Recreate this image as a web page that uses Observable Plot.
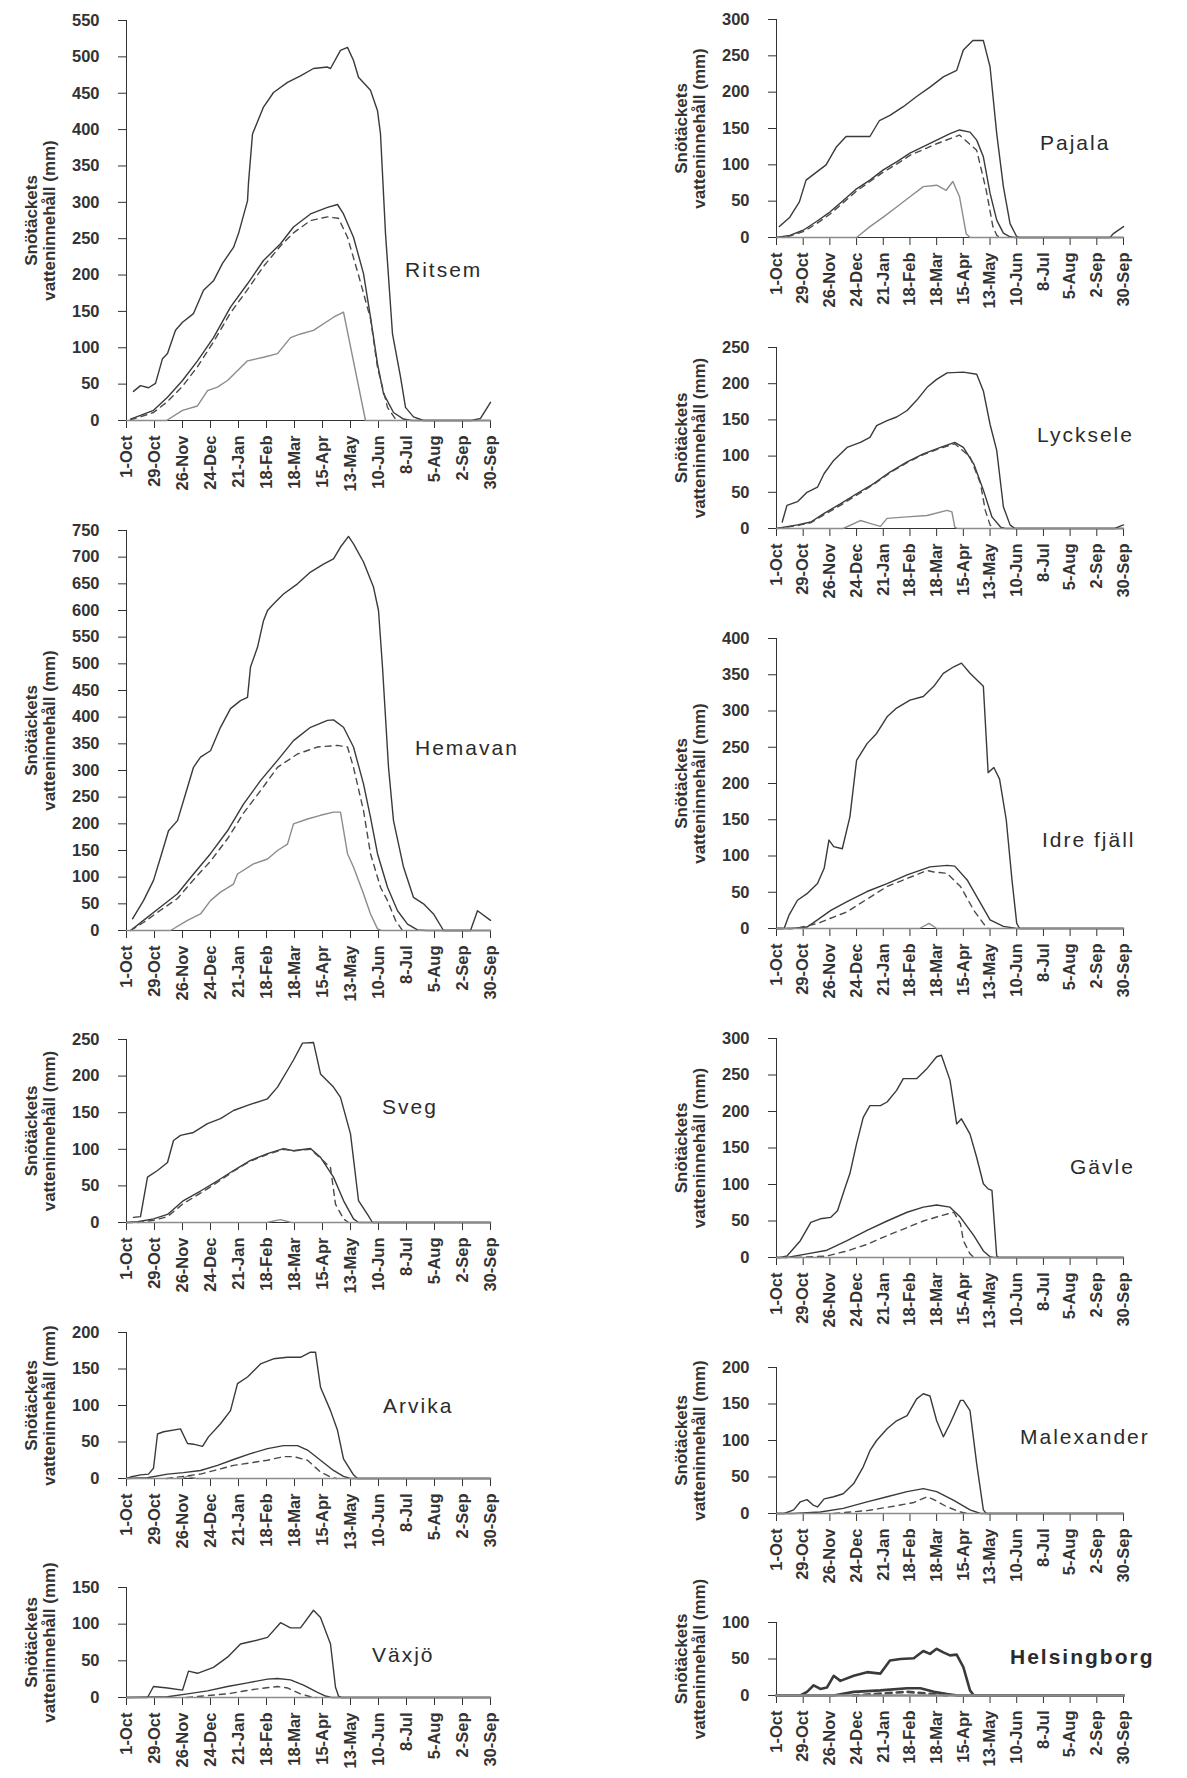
<!DOCTYPE html>
<html>
<head>
<meta charset="utf-8">
<script src="https://cdn.jsdelivr.net/npm/d3@7"></script>
<script src="https://cdn.jsdelivr.net/npm/@observablehq/plot@0.6"></script>
<style>
  html, body { margin: 0; padding: 0; background: #fff; }
  #wrap { position: relative; width: 1187px; height: 1778px; background: #fff; overflow: hidden; }
  #wrap svg { position: absolute; }
  .station { position: absolute; font-family: "Liberation Sans", Arial, sans-serif; font-size: 21px; letter-spacing: 2px; color: #2b2b2b; transform: translateY(-50%); white-space: nowrap; }
</style>
</head>
<body>
<div id="wrap"></div>
<script>
// ---- Tick days (days after 1 Oct) and labels ----
const tickDays = [0, 28, 56, 84, 112, 140, 168, 196, 224, 252, 280, 308, 336, 364];
const tickLabels = ["1-Oct","29-Oct","26-Nov","24-Dec","21-Jan","18-Feb","18-Mar","15-Apr","13-May","10-Jun","8-Jul","5-Aug","2-Sep","30-Sep"];
const yLabel = "Snötäckets\nvatteninnehåll (mm)";

// ---- Series: [day after 1 Oct, mm] ----
const ritsemMax = [[7,40],[14,48],[22,45],[29,51],[36,85],[41,92],[49,124],[56,135],[67,147],[77,179],[87,192],[96,216],[107,238],[112,257],[121,302],[122,327],[126,394],[137,431],[147,451],[161,465],[174,474],[187,484],[201,486],[204,484],[214,509],[221,513],[227,495],[232,472],[244,454],[251,426],[254,394],[259,257],[266,119],[274,60],[279,18],[287,5],[297,0],[345,0],[354,3],[364,25]];
const ritsemMean = [[4,2],[14,7],[27,14],[41,32],[56,55],[71,82],[87,114],[104,156],[121,188],[137,220],[154,243],[167,266],[184,284],[201,293],[211,297],[217,284],[227,252],[237,202],[244,142],[251,78],[257,37],[267,11],[277,2],[285,0],[364,0]];
const ritsemMedian = [[4,1],[14,5],[27,11],[41,26],[56,47],[71,74],[87,108],[104,148],[121,180],[137,212],[154,240],[167,258],[184,275],[201,280],[212,278],[221,252],[232,200],[244,140],[251,73],[261,18],[270,0]];
const ritsemMin = [[0,0],[40,0],[56,14],[71,20],[81,41],[91,46],[101,55],[121,82],[137,87],[151,92],[164,114],[174,119],[187,124],[207,142],[217,149],[239,0],[364,0]];

const hemavanMax = [[6,22],[17,56],[27,94],[34,137],[42,187],[51,206],[59,256],[67,306],[74,325],[84,337],[94,381],[104,416],[114,431],[121,437],[124,494],[131,531],[137,581],[141,600],[147,612],[157,631],[171,650],[184,672],[197,687],[207,697],[214,719],[222,739],[227,725],[237,691],[247,644],[252,600],[256,494],[262,306],[267,206],[277,119],[287,62],[297,50],[307,31],[317,0],[344,0],[351,37],[364,19]];
const hemavanMean = [[4,0],[17,19],[34,44],[51,69],[67,106],[84,144],[101,187],[117,237],[134,281],[151,319],[167,356],[184,381],[201,394],[207,395],[217,381],[227,344],[237,275],[244,212],[251,144],[261,81],[271,37],[281,12],[291,1],[300,0],[364,0]];
const hemavanMedian = [[4,0],[17,15],[34,38],[51,60],[67,95],[84,130],[101,172],[117,220],[134,262],[151,306],[171,331],[191,344],[211,347],[221,344],[227,306],[237,225],[244,144],[254,81],[261,56],[269,19],[276,0]];
const hemavanMin = [[0,0],[44,0],[61,19],[74,31],[84,56],[94,72],[107,87],[111,106],[127,125],[141,134],[151,150],[161,162],[167,200],[181,209],[194,216],[207,222],[214,222],[221,144],[227,119],[237,69],[244,31],[251,3],[255,0],[364,0]];

const svegMax = [[7,7],[14,8],[21,62],[31,71],[41,82],[47,112],[54,119],[67,123],[81,135],[94,142],[107,153],[121,160],[141,169],[151,185],[161,208],[167,222],[176,245],[187,246],[194,203],[207,185],[214,171],[224,121],[232,30],[241,11],[246,0],[364,0]];
const svegMean = [[0,0],[11,1],[27,5],[41,11],[57,30],[74,43],[91,57],[107,71],[124,85],[141,94],[157,101],[167,98],[184,101],[194,89],[207,62],[217,30],[227,5],[232,0],[364,0]];
const svegMedian = [[0,0],[11,0],[27,3],[41,8],[57,26],[74,40],[91,55],[107,70],[124,84],[141,93],[157,100],[167,98],[184,100],[194,88],[204,75],[209,25],[217,5],[222,0]];
const svegMin = [[0,0],[140,0],[154,4],[165,0],[364,0]];

const arvikaMax = [[0,0],[4,2],[14,5],[22,6],[27,14],[31,61],[37,64],[54,68],[61,48],[67,47],[76,44],[82,57],[94,75],[104,93],[111,130],[121,139],[134,157],[147,164],[161,166],[174,166],[184,173],[189,173],[194,125],[204,93],[211,66],[217,27],[227,5],[231,0],[364,0]];
const arvikaMean = [[0,0],[21,1],[41,6],[57,8],[74,11],[91,18],[107,26],[124,34],[141,41],[157,45],[171,45],[181,39],[194,25],[207,11],[217,3],[224,0],[364,0]];
const arvikaMedian = [[40,0],[74,6],[107,18],[141,25],[157,30],[167,30],[181,25],[194,9],[204,2],[210,0]];
const arvikaMin = [[0,0],[55,0],[61,3],[70,0],[364,0]];

const vaxjoMax = [[0,0],[21,0],[27,15],[41,13],[56,10],[62,36],[71,33],[87,41],[101,55],[114,73],[127,77],[141,82],[154,102],[164,95],[174,95],[187,119],[194,109],[204,73],[209,14],[212,2],[215,0],[364,0]];
const vaxjoMean = [[0,0],[41,1],[61,5],[81,9],[101,15],[121,20],[141,25],[151,26],[164,24],[177,17],[191,7],[199,2],[205,0],[364,0]];
const vaxjoMedian = [[60,0],[101,5],[127,11],[151,15],[161,13],[174,5],[184,1],[190,0]];
const vaxjoMin = [[0,0],[364,0]];

const pajalaMax = [[3,15],[14,28],[24,49],[31,79],[42,90],[52,100],[63,125],[73,139],[87,139],[98,139],[108,161],[119,168],[133,180],[147,194],[161,207],[175,221],[189,230],[196,258],[206,271],[217,271],[224,235],[231,143],[238,70],[245,19],[252,1],[255,0],[350,0],[353,5],[364,15]];
const pajalaMean = [[0,0],[14,3],[28,10],[42,22],[56,35],[70,51],[84,67],[98,79],[112,93],[126,104],[140,116],[154,125],[168,134],[182,143],[192,148],[203,145],[210,134],[217,111],[224,61],[231,24],[238,6],[245,1],[250,0],[364,0]];
const pajalaMedian = [[0,0],[14,2],[28,8],[42,19],[56,32],[70,48],[84,64],[98,77],[112,90],[126,101],[140,113],[154,121],[168,129],[192,141],[210,120],[220,65],[227,15],[231,3],[235,0]];
const pajalaMin = [[0,0],[84,0],[98,15],[112,28],[126,42],[140,56],[154,70],[168,72],[178,65],[185,77],[192,56],[199,5],[203,0],[364,0]];

const lyckseleMax = [[6,9],[11,32],[22,37],[32,50],[43,57],[50,76],[60,94],[74,112],[88,119],[98,126],[105,142],[116,149],[126,154],[137,163],[147,177],[158,195],[168,206],[179,215],[196,216],[210,213],[217,190],[224,144],[231,108],[238,30],[245,5],[250,0],[355,0],[360,3],[364,5]];
const lyckseleMean = [[0,0],[22,5],[36,9],[50,21],[67,34],[84,48],[102,62],[119,78],[137,92],[154,103],[172,112],[187,119],[196,112],[207,89],[217,53],[226,16],[235,2],[240,0],[364,0]];
const lyckseleMedian = [[0,0],[22,4],[36,8],[50,19],[67,32],[84,46],[102,61],[119,77],[137,91],[154,102],[172,111],[187,117],[203,99],[214,62],[219,25],[224,5],[228,0]];
const lyckseleMin = [[0,0],[70,0],[88,11],[98,7],[109,3],[116,14],[137,16],[158,18],[179,25],[184,23],[187,2],[190,0],[364,0]];

const idreMax = [[0,0],[8,0],[13,18],[22,39],[32,48],[43,62],[50,83],[55,122],[60,113],[69,110],[77,154],[84,232],[95,255],[105,269],[116,292],[126,304],[140,315],[154,320],[165,334],[175,352],[186,361],[194,366],[203,352],[217,334],[222,215],[228,222],[234,206],[241,150],[247,67],[252,7],[255,0],[364,0]];
const idreMean = [[0,0],[15,0],[32,2],[43,12],[57,25],[74,37],[95,51],[116,62],[137,74],[161,85],[179,87],[187,86],[200,67],[214,35],[224,12],[238,3],[252,0],[364,0]];
const idreMedian = [[0,0],[20,0],[43,7],[74,23],[116,58],[158,80],[165,78],[179,76],[193,58],[207,25],[217,7],[222,0]];
const idreMin = [[0,0],[150,0],[160,7],[168,0],[364,0]];

const gavleMax = [[0,0],[4,0],[11,2],[25,23],[36,48],[46,53],[57,55],[64,64],[72,96],[77,115],[84,156],[91,192],[98,208],[109,208],[116,213],[126,229],[133,245],[147,245],[158,259],[168,275],[173,277],[182,243],[189,183],[194,190],[203,169],[210,137],[217,101],[222,94],[226,92],[231,2],[233,0],[364,0]];
const gavleMean = [[0,0],[11,0],[32,5],[53,10],[74,23],[95,37],[116,50],[137,62],[154,69],[168,72],[182,69],[193,55],[207,30],[217,9],[224,1],[228,0],[364,0]];
const gavleMedian = [[20,0],[53,2],[74,9],[95,18],[116,30],[137,41],[154,50],[172,57],[186,62],[193,46],[196,23],[203,5],[207,0]];
const gavleMin = [[0,0],[364,0]];

const malexanderMax = [[0,0],[8,0],[18,5],[25,16],[32,19],[39,11],[43,9],[50,20],[60,23],[70,27],[81,41],[91,64],[98,86],[105,100],[116,116],[126,127],[137,134],[147,157],[154,164],[161,161],[168,127],[175,105],[182,123],[193,155],[196,155],[203,141],[210,68],[217,5],[220,0],[364,0]];
const malexanderMean = [[0,0],[18,0],[46,2],[70,7],[95,16],[116,23],[137,30],[154,34],[168,30],[186,18],[203,5],[214,0],[364,0]];
const malexanderMedian = [[60,0],[95,4],[123,10],[144,15],[158,23],[165,19],[179,9],[193,2],[200,0]];
const malexanderMin = [[0,0],[364,0]];

const helsingborgMax = [[0,0],[25,0],[32,5],[39,14],[46,9],[53,11],[60,27],[67,20],[81,27],[95,32],[109,30],[119,48],[130,50],[144,51],[154,61],[161,57],[168,64],[175,59],[182,55],[189,56],[196,39],[203,7],[207,0],[364,0]];
const helsingborgMean = [[0,0],[60,0],[81,5],[109,7],[137,10],[151,10],[165,5],[179,2],[190,0],[364,0]];
const helsingborgMedian = [[80,0],[102,2],[137,5],[165,2],[180,0]];
const helsingborgMin = [[0,0],[364,0]];

// ---- Panels (layout in page pixels) ----
const panels = [
  {name:"Ritsem", yMax:550, series:[ritsemMax, ritsemMean, ritsemMedian, ritsemMin], axisX:126, right:490, top:20, bottom:420, labelX:405, labelY:270},
  {name:"Hemavan", yMax:750, series:[hemavanMax, hemavanMean, hemavanMedian, hemavanMin], axisX:126, right:490, top:530, bottom:930, labelX:415, labelY:748},
  {name:"Sveg", yMax:250, series:[svegMax, svegMean, svegMedian, svegMin], axisX:126, right:490, top:1039, bottom:1222, labelX:382, labelY:1107},
  {name:"Arvika", yMax:200, series:[arvikaMax, arvikaMean, arvikaMedian, arvikaMin], axisX:126, right:490, top:1332, bottom:1478, labelX:383, labelY:1406},
  {name:"Växjö", yMax:150, series:[vaxjoMax, vaxjoMean, vaxjoMedian, vaxjoMin], axisX:126, right:490, top:1587, bottom:1697, labelX:372, labelY:1655},
  {name:"Pajala", yMax:300, series:[pajalaMax, pajalaMean, pajalaMedian, pajalaMin], axisX:776, right:1123, top:19, bottom:237, labelX:1040, labelY:143},
  {name:"Lycksele", yMax:250, series:[lyckseleMax, lyckseleMean, lyckseleMedian, lyckseleMin], axisX:776, right:1123, top:347, bottom:528, labelX:1037, labelY:435},
  {name:"Idre fjäll", yMax:400, series:[idreMax, idreMean, idreMedian, idreMin], axisX:776, right:1123, top:638, bottom:928, labelX:1042, labelY:840},
  {name:"Gävle", yMax:300, series:[gavleMax, gavleMean, gavleMedian, gavleMin], axisX:776, right:1123, top:1038, bottom:1257, labelX:1070, labelY:1167},
  {name:"Malexander", yMax:200, series:[malexanderMax, malexanderMean, malexanderMedian, malexanderMin], axisX:776, right:1123, top:1367, bottom:1513, labelX:1020, labelY:1437},
  {name:"Helsingborg", yMax:100, series:[helsingborgMax, helsingborgMean, helsingborgMedian, helsingborgMin], axisX:776, right:1123, top:1622, bottom:1695, labelX:1010, labelY:1657, bold:true}
];

const lineStyles = [
  {stroke:"#3a3a3a", strokeWidth:1.4},
  {stroke:"#3a3a3a", strokeWidth:1.4},
  {stroke:"#4a4a4a", strokeWidth:1.4, strokeDasharray:"6,5"},
  {stroke:"#8c8c8c", strokeWidth:1.4}
];

const wrap = document.getElementById("wrap");
const mL = 120, mR = 12, mT = 12, mB = 72;

for (const p of panels) {
  const w = p.right - p.axisX;
  const h = p.bottom - p.top;
  const marks = p.series.map((s, i) => Plot.line(s, {
    x: d => d[0], y: d => d[1],
    ...lineStyles[i],
    strokeWidth: p.bold ? 2.6 : lineStyles[i].strokeWidth,
    strokeLinejoin: "round", strokeLinecap: "round"
  }));
  marks.push(Plot.text([yLabel], {
    text: d => d, frameAnchor: "left", textAnchor: "middle", lineAnchor: "middle",
    dx: -86, rotate: -90,
    fontSize: 17, fontWeight: "bold", lineHeight: 1.05, fill: "#333"
  }));
  const svg = Plot.plot({
    width: mL + w + mR,
    height: mT + h + mB,
    marginLeft: mL, marginRight: mR, marginTop: mT, marginBottom: mB,
    style: {background: "transparent", overflow: "visible", fontFamily: "'Liberation Sans', Arial, sans-serif", fontSize: "16.5px", fontWeight: "bold", color: "#333"},
    x: {type: "linear", domain: [0, 364], ticks: tickDays, tickFormat: d => tickLabels[tickDays.indexOf(d)], tickRotate: -90, tickSize: 8, tickPadding: 7, line: true, label: null},
    y: {domain: [0, p.yMax], ticks: d3.range(0, p.yMax + 1, 50), tickSize: 8, tickPadding: 19, line: true, label: null},
    marks
  });
  svg.style.left = (p.axisX - mL) + "px";
  svg.style.top = (p.top - mT) + "px";
  wrap.appendChild(svg);

  const lab = document.createElement("div");
  lab.className = "station";
  lab.textContent = p.name;
  lab.style.left = p.labelX + "px";
  lab.style.top = p.labelY + "px";
  if (p.bold) lab.style.fontWeight = "bold";
  wrap.appendChild(lab);
}
</script>
</body>
</html>
